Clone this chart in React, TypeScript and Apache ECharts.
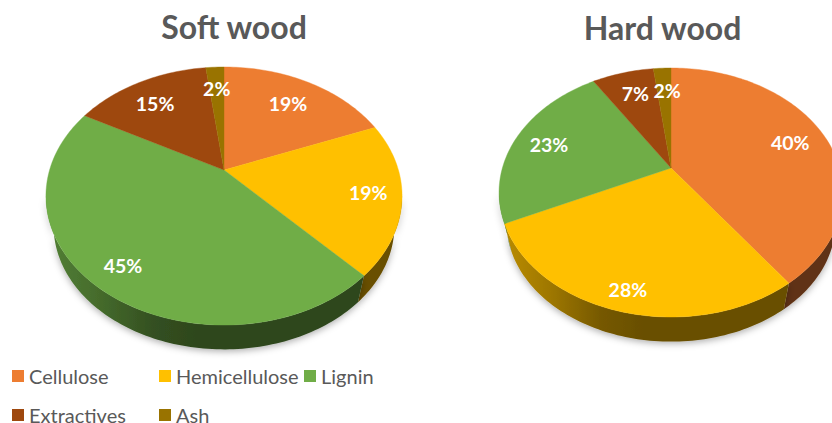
import React, { useEffect, useRef } from "react";
import * as echarts from "echarts";

const categories = ["Cellulose", "Hemicellulose", "Lignin", "Extractives", "Ash"];
const softWood = [19, 19, 45, 15, 2];
const hardWood = [40, 28, 23, 7, 2];
const titles = ["Soft wood", "Hard wood"];
const colors = ["#ED7D31", "#FFC000", "#70AD47", "#9E480E", "#997300"];

// Layout only: apex of each pie, perspective factors, wall depth.
const pieLayouts = [
  { cx: 224, cy: 170, a: 174.4, b: 123.8, k: -0.2016, dy: 31, s: 0.957, xMin: 46, xMax: 402, labelR: [0.733, 0.817, 0.828, 0.77, 0.765], nudge: [[0, 0], [0, 0], [1, 2], [-2, 3], [0, 0]] },
  { cx: 671, cy: 168, a: 168.6, b: 119.7, k: -0.1968, dy: 31, s: 0.957, xMin: 499, xMax: 843, labelR: [0.779, 0.876, 0.786, 0.75, 0.737], nudge: [[0, 2], [1, 0], [0, 2], [2, 0], [3, -1]] },
];
const legendSpots = [[12, 366], [159, 366], [304, 366], [12, 405], [159, 405]];

function shade(hex: string, f: number) {
  const n = parseInt(hex.slice(1), 16);
  const c = [(n >> 16) & 255, (n >> 8) & 255, n & 255].map((v) => Math.round(v * f));
  return `rgb(${c[0]},${c[1]},${c[2]})`;
}

function project(l: (typeof pieLayouts)[number], pct: number, r: number) {
  const t = (pct / 100) * Math.PI * 2;
  const x = r * Math.sin(t);
  const y = -r * Math.cos(t);
  const d = 1 + l.k * y;
  return [l.cx + (l.a * x) / d, l.cy + (l.b * y) / d];
}

function renderSlice(params: any) {
  const pieIndex = params.dataIndex;
  const cat = params.seriesIndex;
  const values = pieIndex === 0 ? softWood : hardWood;
  const l = pieLayouts[pieIndex];
  const total = values.reduce((s, v) => s + v, 0);
  let start = 0;
  for (let i = 0; i < cat; i++) start += values[i];
  const startPct = (start / total) * 100;
  const endPct = ((start + values[cat]) / total) * 100;
  const color = colors[cat];

  const rim: number[][] = [];
  const n = Math.max(4, Math.ceil((endPct - startPct) * 3));
  for (let i = 0; i <= n; i++) rim.push(project(l, startPct + ((endPct - startPct) * i) / n, 1));
  const top = [[l.cx, l.cy], ...rim];

  // Wall: only the part of the rim that faces the viewer.
  const extreme = (Math.acos(l.k) / (Math.PI * 2)) * 100;
  const vis0 = Math.max(startPct, extreme);
  const vis1 = Math.min(endPct, 100 - extreme);
  const children: any[] = [];
  if (vis1 > vis0) {
    const front: number[][] = [];
    const m = Math.max(4, Math.ceil((vis1 - vis0) * 3));
    for (let i = 0; i <= m; i++) front.push(project(l, vis0 + ((vis1 - vis0) * i) / m, 1));
    const back = front
      .map((p) => [l.cx + (p[0] - l.cx) * l.s, l.cy + (p[1] - l.cy) * l.s + l.dy])
      .reverse();
    children.push({
      type: "polygon",
      z2: 1,
      shape: { points: [...front, ...back] },
      style: {
        fill: new echarts.graphic.LinearGradient(
          l.xMin, 0, l.xMax, 0,
          [
            { offset: 0, color: shade(color, 0.74) },
            { offset: 0.15, color: shade(color, 0.62) },
            { offset: 0.3, color: shade(color, 0.46) },
            { offset: 0.42, color: shade(color, 0.41) },
            { offset: 1, color: shade(color, 0.41) },
          ],
          true
        ),
        shadowBlur: 7,
        shadowColor: "rgba(0,0,0,0.32)",
        shadowOffsetY: 2,
      },
    });
  }
  children.push({
    type: "polygon",
    z2: 2,
    shape: { points: top },
    style: { fill: color, stroke: color, lineWidth: 0.4 },
  });
  const [lx, ly] = project(l, (startPct + endPct) / 2, l.labelR[cat]);
  children.push({
    type: "text",
    z2: 3,
    x: lx + l.nudge[cat][0],
    y: ly + l.nudge[cat][1],
    style: {
      text: `${values[cat]}%`,
      fill: "#fff",
      font: "bold 19.5px Lato",
      align: "center",
      verticalAlign: "middle",
    },
  });
  return { type: "group", children };
}

export default function App() {
  const ref = useRef<HTMLDivElement>(null);
  useEffect(() => {
    document.body.style.margin = "0";
    const chart = echarts.init(ref.current!, null, { renderer: "svg" });
    chart.setOption({
      animation: false,
      backgroundColor: "#fff",
      title: [
        { text: titles[0], left: 229, top: 5, textAlign: "center", textStyle: { fontFamily: "Lato", fontWeight: "bold", fontSize: 32, color: "#595959" } },
        { text: titles[1], left: 657.5, top: 6, textAlign: "center", textStyle: { fontFamily: "Lato", fontWeight: "bold", fontSize: 32, color: "#595959" } },
      ],
      legend: categories.map((c, i) => ({
        data: [c],
        left: legendSpots[i][0],
        top: legendSpots[i][1],
        padding: 0,
        icon: "rect",
        itemWidth: 12,
        itemHeight: 12,
        selectedMode: false,
        textStyle: { fontFamily: "Lato", fontSize: 20, lineHeight: 14, padding: [0, 0, 6, 0], color: "#595959" },
      })),
      series: categories.map((c, i) => ({
        type: "custom",
        name: c,
        coordinateSystem: "none",
        itemStyle: { color: colors[i] },
        renderItem: renderSlice,
        data: [softWood[i], hardWood[i]],
      })),
    });
    return () => chart.dispose();
  }, []);
  return <div ref={ref} style={{ width: 832, height: 423 }} />;
}
